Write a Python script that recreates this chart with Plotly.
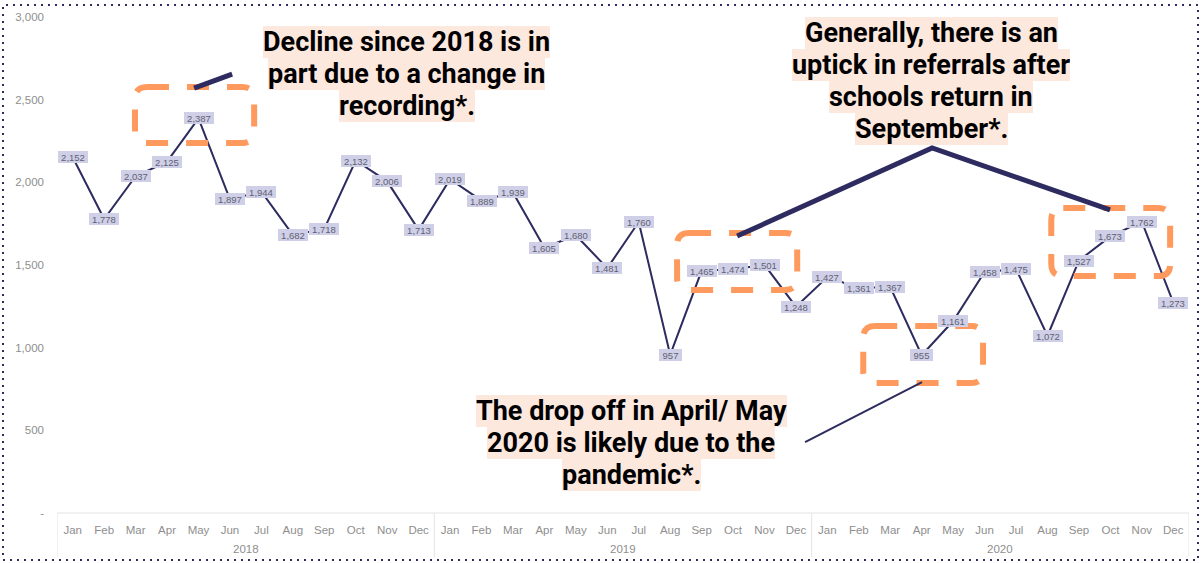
import plotly.graph_objects as go

# Monthly referrals, Jan 2018 - Dec 2020
months = ["Jan", "Feb", "Mar", "Apr", "May", "Jun", "Jul", "Aug", "Sep", "Oct", "Nov", "Dec"]
years = ["2018", "2019", "2020"]
referrals_2018 = [2152, 1778, 2037, 2125, 2387, 1897, 1944, 1682, 1718, 2132, 2006, 1713]
referrals_2019 = [2019, 1889, 1939, 1605, 1680, 1481, 1760, 957, 1465, 1474, 1501, 1248]
referrals_2020 = [1427, 1361, 1367, 955, 1161, 1458, 1475, 1072, 1527, 1673, 1762, 1273]
y_ticks = [0, 500, 1000, 1500, 2000, 2500, 3000]
y_tick_labels = ["-", "500", "1,000", "1,500", "2,000", "2,500", "3,000"]

values = referrals_2018 + referrals_2019 + referrals_2020
x_idx = list(range(len(values)))
tick_text = months * len(years)

# page geometry
W, H = 1201, 563
ML, MR, MT, MB = 57, 12, 17, 50
PLOT_W, PLOT_H = W - ML - MR, H - MT - MB
Y_MAX = 3000
N = len(values)
PX_PER_IDX = PLOT_W / N
VAL_PER_PX = Y_MAX / PLOT_H

NAVY = "#2d2b5f"
ORANGE = "#ff9a5e"
LABEL_BG = "#cfd0e8"
LABEL_FG = "#5f6072"
AXIS_FG = "#8e8e8e"
NOTE_BG = "#fde8de"


def paper_x(px):
    return (px - ML) / PLOT_W


def paper_y(py):
    return (H - MB - py) / PLOT_H


def rounded_box(x0, x1, y0, y1, r_px=12):
    rx = r_px / PX_PER_IDX
    ry = r_px * VAL_PER_PX
    return (
        f"M {x0 + rx},{y1} L {x1 - rx},{y1} Q {x1},{y1} {x1},{y1 - ry} "
        f"L {x1},{y0 + ry} Q {x1},{y0} {x1 - rx},{y0} "
        f"L {x0 + rx},{y0} Q {x0},{y0} {x0},{y0 + ry} "
        f"L {x0},{y1 - ry} Q {x0},{y1} {x0 + rx},{y1} Z"
    )


fig = go.Figure()
fig.add_trace(go.Scatter(
    x=x_idx, y=values, mode="lines",
    line=dict(color=NAVY, width=2),
    hoverinfo="skip", showlegend=False,
))

annotations = []
shapes = []

# value labels sitting on each point
for i, v in zip(x_idx, values):
    txt = f"{v:,}"
    annotations.append(dict(
        x=i, y=v, xref="x", yref="y", text=txt, showarrow=False,
        font=dict(family="Liberation Sans, Arial", size=9.5, color=LABEL_FG),
        bgcolor=LABEL_BG, borderpad=0, borderwidth=0,
        width=3.5 * len(txt) + 12.5, height=12,
    ))

# year labels under the month ticks
for k, yr in enumerate(years):
    annotations.append(dict(
        x=k * 12 + 5.5, y=paper_y(549), xref="x", yref="paper", text=yr,
        showarrow=False, yanchor="middle",
        font=dict(family="Liberation Sans, Arial", size=11.5, color=AXIS_FG),
    ))

# category axis frame: top rule and year separators
shapes.append(dict(type="line", xref="x", yref="paper", x0=-0.5, x1=N - 0.5,
                   y0=0, y1=0, line=dict(color="#e4e4e4", width=1)))
for k in range(len(years) + 1):
    xs = k * 12 - 0.5
    shapes.append(dict(type="line", xref="x", yref="paper", x0=xs, x1=xs,
                       y0=0, y1=paper_y(557), line=dict(color="#e4e4e4", width=1)))

# dashed highlight boxes
highlight_boxes = [
    (1.98, 5.77, 2238, 2577),
    (19.22, 23.04, 1349, 1694),
    (25.14, 28.95, 786, 1131),
    (31.12, 34.90, 1433, 1845),
]
for x0, x1, y0, y1 in highlight_boxes:
    shapes.append(dict(type="path", xref="x", yref="y", path=rounded_box(x0, x1, y0, y1),
                       line=dict(color=ORANGE, width=6, dash="22px,18px"), layer="above"))

# callout leader lines
shapes.append(dict(type="path", xref="x", yref="y", path="M 3.86,2570 L 5.07,2655",
                   line=dict(color=NAVY, width=5), layer="above"))
shapes.append(dict(type="path", xref="x", yref="y",
                   path="M 21.13,1675 L 27.33,2208 L 32.99,1833",
                   line=dict(color=NAVY, width=5), layer="above"))
shapes.append(dict(type="path", xref="x", yref="y", path="M 23.29,429 L 27.01,792",
                   line=dict(color=NAVY, width=2), layer="above"))

# dotted outer frame
shapes.append(dict(type="rect", xref="paper", yref="paper",
                   x0=paper_x(3), x1=paper_x(1198), y0=paper_y(560), y1=paper_y(5),
                   line=dict(color=NAVY, width=2, dash="2px,5px")))

# callout notes, each line on its own highlight
notes = [
    (10.62, 2846, ["Decline since 2018 is in", "part due to a change in", "recording*."]),
    (27.30, 2903, ["Generally, there is an", "uptick in referrals after",
                   "schools return in", "September*."]),
    (17.76, 617, ["The drop off in April/ May", "2020 is likely due to the", "pandemic*."]),
]
line_step = 32 * VAL_PER_PX
for cx, top_y, lines in notes:
    for j, line in enumerate(lines):
        annotations.append(dict(
            x=cx, y=top_y - j * line_step, xref="x", yref="y", text=line,
            showarrow=False, xanchor="center", yanchor="middle",
            font=dict(family="Roboto", size=27, color="#000000", weight="bold"),
            bgcolor=NOTE_BG, borderpad=0, borderwidth=0, height=32,
        ))

fig.update_layout(
    width=W, height=H,
    margin=dict(l=ML, r=MR, t=MT, b=MB),
    paper_bgcolor="white", plot_bgcolor="white",
    showlegend=False,
    xaxis=dict(
        range=[-0.5, N - 0.5], tickvals=x_idx, ticktext=tick_text,
        showgrid=False, zeroline=False, showline=False, ticks="",
        ticklabelstandoff=8,
        tickfont=dict(family="Liberation Sans, Arial", size=11.5, color=AXIS_FG),
        fixedrange=True,
    ),
    yaxis=dict(
        range=[0, Y_MAX], tickvals=y_ticks, ticktext=y_tick_labels,
        showgrid=False, zeroline=False, showline=False, ticks="",
        ticklabelstandoff=12,
        tickfont=dict(family="Liberation Sans, Arial", size=11.5, color=AXIS_FG),
        fixedrange=True,
    ),
    annotations=annotations,
    shapes=shapes,
)

fig.write_html("out.html")
